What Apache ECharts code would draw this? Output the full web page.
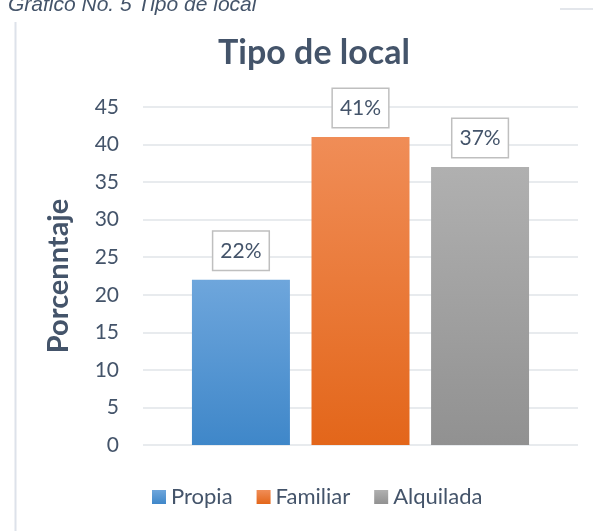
<!DOCTYPE html>
<html>
<head>
<meta charset="utf-8">
<script src="https://cdn.jsdelivr.net/npm/echarts@6/dist/echarts.min.js"></script>
<style>
  html, body { margin: 0; padding: 0; background: #fff; }
  #main { width: 593px; height: 531px; }
</style>
</head>
<body>
<div id="main"></div>
<script>
  var seriesNames = ['Propia', 'Familiar', 'Alquilada'];
  var values = [22, 41, 37];
  var yTicks = [0, 5, 10, 15, 20, 25, 30, 35, 40, 45];
  // colores del degradado (arriba, abajo)
  var gradColors = [
    ['#6ea6dc', '#3f87c9'],
    ['#f08d57', '#e3661a'],
    ['#b0b0b0', '#919191']
  ];

  var textColor = '#44546a';
  var chart = echarts.init(document.getElementById('main'));

  var series = [];
  for (var i = 0; i < seriesNames.length; i++) {
    series.push({
      name: seriesNames[i],
      type: 'bar',
      barWidth: 98,
      barGap: '22%',
      data: [values[i]],
      itemStyle: {
        color: new echarts.graphic.LinearGradient(0, 0, 0, 1, [
          {offset: 0, color: gradColors[i][0]},
          {offset: 1, color: gradColors[i][1]}
        ])
      },
      label: {
        show: true,
        position: 'top',
        distance: 10,
        formatter: '{c}%',
        color: textColor,
        fontFamily: 'Lato',
        fontSize: 21,
        backgroundColor: '#fff',
        borderColor: '#bfbfbf',
        borderWidth: 1.5,
        padding: [9, 7, 8, 7]
      }
    });
  }

  chart.setOption({
    animation: false,
    title: {
      text: 'Tipo de local',
      left: 309,
      top: 31,
      textAlign: 'center',
      textStyle: {
        color: textColor,
        fontFamily: 'Lato',
        fontWeight: 'bold',
        fontSize: 34
      }
    },
    legend: {
      data: seriesNames,
      bottom: 18,
      left: 147,
      itemWidth: 14,
      itemHeight: 14,
      itemGap: 24,
      icon: 'rect',
      textStyle: {
        color: textColor,
        fontFamily: 'Lato',
        fontSize: 22
      }
    },
    grid: {
      left: 143,
      right: 15,
      top: 107,
      bottom: 86
    },
    xAxis: {
      type: 'category',
      data: [''],
      axisLine: {show: false},
      axisTick: {show: false},
      axisLabel: {show: false}
    },
    yAxis: {
      type: 'value',
      min: yTicks[0],
      max: yTicks[yTicks.length - 1],
      interval: 5,
      name: 'Porcenntaje',
      nameLocation: 'middle',
      nameGap: 70,
      nameTextStyle: {
        color: textColor,
        fontFamily: 'Lato',
        fontWeight: 'bold',
        fontSize: 29
      },
      axisLabel: {
        margin: 24,
        color: textColor,
        fontFamily: 'Lato',
        fontSize: 21
      },
      splitLine: {
        lineStyle: {color: '#e1e4e9', width: 1.5}
      }
    },
    graphic: [
      {
        type: 'text',
        left: 8,
        top: -5,
        style: {
          text: 'Gráfico No. 5 Tipo de local',
          fill: textColor,
          font: 'italic 21px "Liberation Sans"'
        }
      },
      {
        type: 'line',
        shape: {x1: 15.5, y1: 22, x2: 15.5, y2: 531},
        style: {stroke: '#dde2ea', lineWidth: 2}
      },
      {
        type: 'line',
        shape: {x1: 560, y1: 9, x2: 593, y2: 9},
        style: {stroke: '#e3e6eb', lineWidth: 2}
      }
    ],
    series: series
  });
</script>
</body>
</html>
